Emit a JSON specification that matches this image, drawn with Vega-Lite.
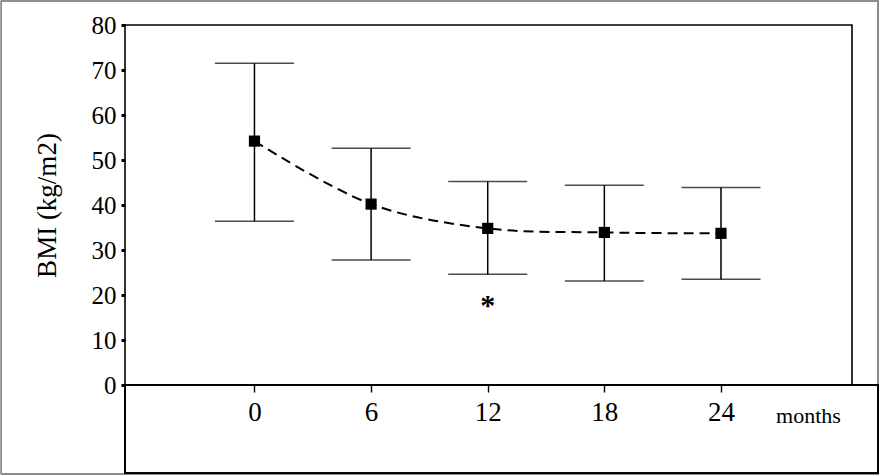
{
  "$schema": "https://vega.github.io/schema/vega-lite/v6.json",
  "autosize": "none",
  "width": 727,
  "height": 360,
  "padding": {"left": 125, "top": 25, "right": 28, "bottom": 91},
  "background": "white",
  "config": {
    "view": {"stroke": "black", "strokeWidth": 1.6},
    "font": "Liberation Serif"
  },
  "data": {
    "values": [
      {"month": 0, "bmi": 54.2, "lower": 36.4, "upper": 71.5},
      {"month": 6, "bmi": 40.2, "lower": 27.8, "upper": 52.6},
      {"month": 12, "bmi": 34.8, "lower": 24.6, "upper": 45.2},
      {"month": 18, "bmi": 33.9, "lower": 23.1, "upper": 44.4},
      {"month": 24, "bmi": 33.7, "lower": 23.5, "upper": 43.9}
    ]
  },
  "encoding": {
    "x": {
      "field": "month",
      "type": "quantitative",
      "scale": {"domain": [-6.66, 30.74], "nice": false, "zero": false},
      "axis": {
        "values": [0, 6, 12, 18, 24],
        "domain": false,
        "grid": false,
        "tickSize": 7,
        "tickWidth": 1.4,
        "tickColor": "black",
        "labelFont": "Liberation Serif",
        "labelFontSize": 27,
        "labelColor": "black",
        "labelPadding": 7,
        "title": "months",
        "titleFont": "Liberation Serif",
        "titleFontWeight": "normal",
        "titleFontSize": 22,
        "titleColor": "black",
        "titleX": 683,
        "titleY": 30,
        "titleAlign": "center",
        "titleBaseline": "middle"
      }
    }
  },
  "layer": [
    {
      "mark": {"type": "rect", "fill": null, "stroke": "#8a8a8a", "strokeWidth": 1.2},
      "encoding": {
        "x": {"datum": -13.02, "type": "quantitative"},
        "x2": {"datum": 32.08},
        "y": {"datum": 85.33, "type": "quantitative"},
        "y2": {"datum": -19.78}
      }
    },
    {
      "mark": {"type": "rect", "fill": null, "stroke": "black", "strokeWidth": 1.6},
      "encoding": {
        "x": {"datum": -6.66, "type": "quantitative"},
        "x2": {"datum": 32.08},
        "y": {"datum": 0, "type": "quantitative"},
        "y2": {"datum": -19.6}
      }
    },
    {
      "mark": {"type": "rule", "color": "black", "strokeWidth": 1.5},
      "encoding": {
        "y": {
          "field": "lower",
          "type": "quantitative",
          "scale": {"domain": [0, 80], "nice": false},
          "axis": {
            "values": [0, 10, 20, 30, 40, 50, 60, 70, 80],
            "domain": false,
            "grid": false,
            "tickSize": 4,
            "tickWidth": 3,
            "tickColor": "black",
            "labelFont": "Liberation Serif",
            "labelFontSize": 25,
            "labelColor": "black",
            "labelPadding": 5,
            "title": "BMI (kg/m2)",
            "titleFont": "Liberation Serif",
            "titleFontWeight": "normal",
            "titleFontSize": 27,
            "titleColor": "black",
            "titleX": -78,
            "titleY": 180,
            "titleAngle": -90,
            "titleAlign": "center",
            "titleBaseline": "middle"
          }
        },
        "y2": {"field": "upper"}
      }
    },
    {
      "mark": {"type": "tick", "orient": "horizontal", "size": 79, "thickness": 1.5, "color": "black"},
      "encoding": {"y": {"field": "upper", "type": "quantitative"}}
    },
    {
      "mark": {"type": "tick", "orient": "horizontal", "size": 79, "thickness": 1.5, "color": "black"},
      "encoding": {"y": {"field": "lower", "type": "quantitative"}}
    },
    {
      "mark": {"type": "line", "color": "black", "strokeWidth": 2, "strokeDash": [10, 6], "interpolate": "catmull-rom"},
      "encoding": {"y": {"field": "bmi", "type": "quantitative"}}
    },
    {
      "mark": {"type": "point", "shape": "square", "filled": true, "color": "black", "size": 125, "opacity": 1},
      "encoding": {"y": {"field": "bmi", "type": "quantitative"}}
    },
    {
      "data": {"values": [{"month": 12, "level": 18.2, "mark": "*"}]},
      "mark": {"type": "text", "font": "Liberation Serif", "fontSize": 30, "fontWeight": "bold", "color": "black", "baseline": "middle", "dy": 3},
      "encoding": {
        "y": {"field": "level", "type": "quantitative"},
        "text": {"field": "mark"}
      }
    }
  ]
}
